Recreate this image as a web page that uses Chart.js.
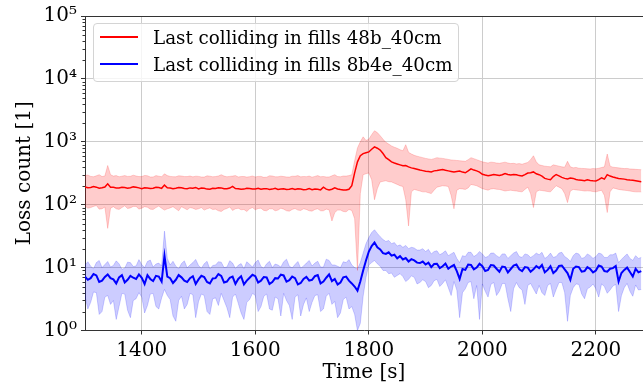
<!DOCTYPE html>
<html>
<head>
<meta charset="utf-8">
<script src="https://cdn.jsdelivr.net/npm/chart.js@4"></script>
<style>
html,body{margin:0;padding:0;background:#fff;}
#wrap{position:relative;width:643px;height:385px;overflow:hidden;}
#legend{position:absolute;left:93px;top:23px;width:364px;height:57px;border:1px solid #d4d4d4;border-radius:4px;background:rgba(255,255,255,0.8);font-family:'DejaVu Serif';font-size:18.3px;color:#000;}
#legend .ln{position:absolute;left:6px;width:38px;height:2px;}
#legend .tx{position:absolute;left:59px;line-height:20px;white-space:nowrap;}
</style>
</head>
<body>
<div id="wrap">
<canvas id="c" width="643" height="385"></canvas>
<div id="legend">
  <div class="ln" style="top:12px;background:#ff0000"></div>
  <div class="tx" style="top:3.5px">Last colliding in fills 48b_40cm</div>
  <div class="ln" style="top:39px;background:#0000ff"></div>
  <div class="tx" style="top:30.5px">Last colliding in fills 8b4e_40cm</div>
</div>
</div>
<script>
// time axis (s), 5 s step, 1300 .. 2280
const timeS = [];
for (let t = 1300; t <= 2280; t += 5) timeS.push(t);

const seriesNames = ['Last colliding in fills 48b_40cm', 'Last colliding in fills 8b4e_40cm'];
const xTickValues = [1400, 1600, 1800, 2000, 2200];
const yTickValues = [1, 10, 100, 1000, 10000, 100000];

const redLine = [
 192,186,188,194,190,183,186,191,215,190,189,184,184,190,188,183,186,192,190,185,
 180,186,185,181,183,189,188,182,205,186,184,180,182,187,186,181,180,185,183,188,
 178,184,182,177,176,183,181,186,185,179,179,184,195,181,180,176,177,183,181,178,
 178,182,176,180,180,175,177,182,175,178,179,174,176,181,174,179,178,173,175,180,
 173,178,176,172,190,177,172,176,185,178,174,171,171,176,200,320,
 480,600,650,670,
 690,760,830,790,740,650,560,520,480,460,445,430,415,420,400,385,375,365,355,348,
 340,336,332,345,350,356,362,352,345,338,330,336,342,330,322,345,372,355,345,330,
 305,296,288,295,302,297,292,300,312,302,296,303,300,290,286,300,318,322,332,310,
 300,285,262,255,250,280,302,288,272,262,256,265,262,252,246,244,240,248,243,240,
 238,250,268,255,300,285,276,268,262,258,255,250,246,244,240,236,232
];
const redUpper = [
 290,296,282,278,288,300,280,286,420,300,285,290,278,284,290,282,283,295,286,280,
 280,292,288,276,276,290,284,278,310,290,282,279,278,288,286,280,280,286,277,284,
 282,276,275,288,284,278,280,286,300,285,278,282,285,290,276,280,281,275,279,286,
 276,282,282,272,274,288,286,278,278,284,280,276,275,284,283,290,277,281,279,285,
 274,282,290,278,281,276,276,288,300,280,278,286,285,290,300,500,
 800,1000,1200,1050,
 1100,1300,1500,1400,1250,1100,980,920,860,820,790,750,720,900,680,640,610,590,575,560,
 545,535,525,540,560,550,545,535,525,515,510,505,500,495,490,520,560,540,520,500,
 480,470,460,475,470,460,455,465,475,460,450,455,445,450,440,455,470,520,600,480,
 430,420,410,405,400,430,420,410,400,395,490,400,385,392,380,378,375,372,370,376,
 372,380,390,400,640,410,395,390,385,380,375,378,370,368,365,362,360
];
const redLower = [
 95,88,90,94,97,85,86,92,42,88,93,86,84,90,96,87,89,94,94,85,
 88,93,91,85,84,90,95,88,82,86,89,93,86,80,93,88,83,90,88,84,
 86,90,82,86,89,84,85,80,78,84,87,92,81,86,88,83,84,78,86,90,
 83,87,88,81,80,86,86,80,82,88,85,80,79,84,87,82,81,86,84,80,
 79,84,86,80,80,85,83,55,75,82,82,78,77,84,81,60,
 9,150,300,310,
 320,250,120,180,230,235,240,232,230,220,210,200,195,120,46,160,175,170,165,160,
 160,155,150,170,190,195,200,198,195,140,86,170,180,178,175,185,210,205,200,190,
 180,175,170,178,180,176,175,170,165,168,170,167,165,162,160,175,190,150,90,160,
 170,168,165,162,160,180,200,190,180,150,108,165,175,172,170,168,165,166,165,162,
 160,165,170,140,75,160,185,180,175,172,170,168,165,162,160,160,160
];
const blueLine = [
 7.2,6.4,6.8,7.9,7.5,5.9,6.2,7.1,7.8,6.8,6.5,5.6,7.0,7.6,5.8,6.4,7.4,6.9,6.6,7.8,
 6.9,5.5,7.6,6.6,6.1,7.4,7.2,6.0,15.5,7.2,6.8,5.7,6.4,7.6,7.0,6.2,5.9,6.8,7.3,5.5,
 6.5,7.4,7.1,5.9,5.6,6.7,6.8,7.9,7.4,5.8,6.0,6.9,7.2,5.5,6.6,7.3,5.4,6.2,6.9,7.7,
 7.3,5.8,6.2,7.1,7.0,5.5,5.9,6.8,6.7,7.7,7.5,6.0,6.3,7.2,6.8,5.4,5.7,6.6,7.1,6.2,
 6.4,7.3,7.6,5.6,6.0,6.9,7.8,6.1,6.6,5.4,5.8,7.0,7.2,6.2,5.6,5.0,
 4.3,6.0,9.0,13,
 18,22,25,21,19.5,17,16.5,17.5,15.5,16,14,15.2,13.5,14.2,12.5,13.6,13,12,11.8,12.5,
 11.2,12,10.2,11.4,11.5,9.8,10.5,11.6,9.6,10.4,11,8.8,6.6,9.5,9.2,11.2,11,9.4,10,11.5,
 10.5,8.8,9.2,11,10.8,9.6,8.6,10.4,10.2,8.4,9.5,10.8,11.2,9.4,8.8,10.2,10,8.6,9.4,10.6,
 9.8,11,8.4,9.2,10.5,8.2,9.0,10.6,10.8,9.4,8.2,6.4,9.6,10.4,10.2,8.6,8.8,10.2,9.5,8.4,
 9.0,10.8,10.4,8.8,8.6,9.6,9.8,10.6,6.0,8.2,9.2,10,8.5,7.2,9.6,8.4,8.8
];
const blueUpper = [
 11,12.4,10.5,9.6,12,13,10,11.2,12.5,10.2,10.8,12.8,11.5,9.4,9.8,12.2,12,10.4,10.6,13.4,
 11.2,10,12.5,13.2,10.2,11.4,11.8,10.6,38,14,11,12.6,10.5,9.6,11.6,12.8,9.9,11,12,13.5,
 10.8,9.8,11.5,12.6,9.5,10.8,11,12.4,12.2,10,10.2,12.9,11.8,9.7,10.9,11.6,9.6,12.4,11.3,10.2,
 12,13.2,10.4,9.8,11.5,12.6,10,11.4,11,10.2,12.4,13.6,10.5,9.9,11.2,12.5,9.8,10.6,11.8,13,
 10.6,11.8,12.6,10.2,10.2,13.6,13,11,11,10.5,10,12.4,12,13.4,11,10,
 9.5,12,17,24,
 30,36,40,35,31,28,26,27,24,25,22,23,21,22.5,20,21,20.5,19,19,20,
 18,19.5,16.5,18,18.5,16,17,18.5,15.5,16.5,17.5,14,12,15.5,15,17.5,17.5,15,16,18,
 16.5,14.5,15,17,17,15.5,14.5,16.5,16.5,14,15.5,17,18,15,14.5,16.5,16,14.5,15.5,17,
 16,17.5,14,15,17,14.5,15,17,17.5,15,14,12.5,15.5,17,16.5,14,14.5,16.5,15.5,14,
 15,17,16.5,14.5,14.5,16,16,17,12,13.5,15,16.5,14,13,15.5,14,14.5
];
const blueLower = [
 3.5,2.2,2.8,4.1,4.0,1.8,2.0,3.4,3.6,2.6,3.0,1.5,2.4,3.9,3.8,2.1,1.6,3.0,3.2,4.0,
 3.4,1.9,2.5,3.8,3.9,2.4,2.2,3.3,4.5,3.6,3.1,1.7,1.4,3.0,3.5,2.2,2.6,3.9,3.7,1.6,
 2.9,3.8,3.6,2.0,1.8,3.2,3.3,2.5,3.9,3.0,2.3,1.6,3.4,3.8,2.7,1.9,1.5,2.8,3.1,3.9,
 3.6,2.0,2.4,3.5,3.8,2.2,2.1,3.4,3.2,1.7,3.9,3.0,2.5,1.5,3.4,3.7,1.7,2.6,3.3,2.0,
 2.8,3.6,3.7,2.0,2.2,3.5,3.9,2.6,2.9,1.6,1.9,3.1,3.4,2.2,2.4,1.8,
 1.0,1.3,3.5,7,
 11,12,13,11.5,10.5,9,9,8,8.2,7,7.5,8,7.2,6,6.5,7.4,7,5.5,5.8,6.4,
 6,4.8,5.2,6.2,6.5,5,5.6,6.4,4.8,3.6,6,4.4,1.6,4,4.6,5.8,6,3.2,5.2,1.5,
 5.5,4.2,3.4,5.4,5.8,3.6,4.2,5.6,5.6,3.2,2.0,4.6,5.8,4.8,4.4,2.6,5.2,5.6,4.6,3.8,
 5.2,4.0,3.6,5.2,5.6,3.4,4.5,5.8,5.8,4.0,1.4,3.6,4.8,5.5,5.4,3.8,3.2,4.6,4.9,5.5,
 4.6,3.4,5.5,5.0,3.9,4.4,5.1,5.4,2.0,3.6,4.8,5.6,4.2,3.5,5.3,4.4,4.5
];

const pts = arr => arr.map((v, i) => ({x: timeS[i], y: v}));
const SUP = {'0':'\u2070','1':'\u00B9','2':'\u00B2','3':'\u00B3','4':'\u2074','5':'\u2075'};
const FONT = 'DejaVu Serif';

const extras = {
  id: 'extras',
  afterDraw(chart) {
    const {ctx, chartArea: a, scales: {y}} = chart;
    ctx.save();
    ctx.strokeStyle = '#333';
    ctx.lineWidth = 1;
    ctx.beginPath();
    ctx.moveTo(a.left, a.top + 0.5);
    ctx.lineTo(a.right, a.top + 0.5);
    for (let d = 0; d < 5; d++) {
      for (let k = 2; k <= 9; k++) {
        const py = Math.round(y.getPixelForValue(k * Math.pow(10, d))) + 0.5;
        ctx.moveTo(a.left - 2.5, py);
        ctx.lineTo(a.left, py);
      }
    }
    ctx.stroke();
    ctx.restore();
  }
};

new Chart(document.getElementById('c'), {
  type: 'line',
  data: {
    datasets: [
      {label: seriesNames[0], data: pts(redLine), borderColor: '#ff0000', borderWidth: 1.5, pointRadius: 0, fill: false, tension: 0},
      {label: seriesNames[1], data: pts(blueLine), borderColor: '#0000ff', borderWidth: 2, pointRadius: 0, fill: false, tension: 0},
      {label: 'r-up', data: pts(redUpper), borderColor: 'rgba(255,0,0,0.18)', borderWidth: 1, backgroundColor: 'rgba(255,0,0,0.2)', pointRadius: 0, fill: '+1'},
      {label: 'r-lo', data: pts(redLower), borderColor: 'rgba(255,0,0,0.18)', borderWidth: 1, pointRadius: 0, fill: false},
      {label: 'b-up', data: pts(blueUpper), borderColor: 'rgba(0,0,255,0.18)', borderWidth: 1, backgroundColor: 'rgba(0,0,255,0.2)', pointRadius: 0, fill: '+1'},
      {label: 'b-lo', data: pts(blueLower), borderColor: 'rgba(0,0,255,0.18)', borderWidth: 1, pointRadius: 0, fill: false}
    ]
  },
  options: {
    responsive: false,
    animation: false,
    events: [],
    layout: {padding: {top: 14, right: 0, left: 0, bottom: 0}},
    plugins: {legend: {display: false}, tooltip: {enabled: false}},
    scales: {
      x: {
        type: 'linear', min: 1300, max: 2283,
        afterBuildTicks: s => { s.ticks = xTickValues.map(v => ({value: v})); },
        afterFit: s => { s.height = 54.5; },
        ticks: {font: {family: FONT, size: 20}, color: '#000', maxRotation: 0, autoSkip: false, padding: 4, callback: v => String(v)},
        grid: {color: '#cccccc', lineWidth: 1, tickLength: 4, tickColor: '#333'},
        border: {color: '#333', width: 1},
        title: {display: true, text: 'Time [s]', font: {family: FONT, size: 20}, color: '#000', padding: {top: 0, bottom: 0}}
      },
      y: {
        type: 'logarithmic', min: 1, max: 100000,
        afterBuildTicks: s => { s.ticks = yTickValues.map(v => ({value: v})); },
        afterFit: s => { s.width = 85; },
        ticks: {
          font: {family: FONT, size: 20}, color: '#000', padding: 4, autoSkip: false,
          callback: v => '10' + SUP[String(Math.round(Math.log10(v)))]
        },
        grid: {color: '#cccccc', lineWidth: 1, tickLength: 4, tickColor: '#333'},
        border: {color: '#333', width: 1},
        title: {display: true, text: 'Loss count [1]', font: {family: FONT, size: 20}, color: '#000', padding: {top: 13, bottom: 0}}
      }
    }
  },
  plugins: [extras]
});
</script>
</body>
</html>
